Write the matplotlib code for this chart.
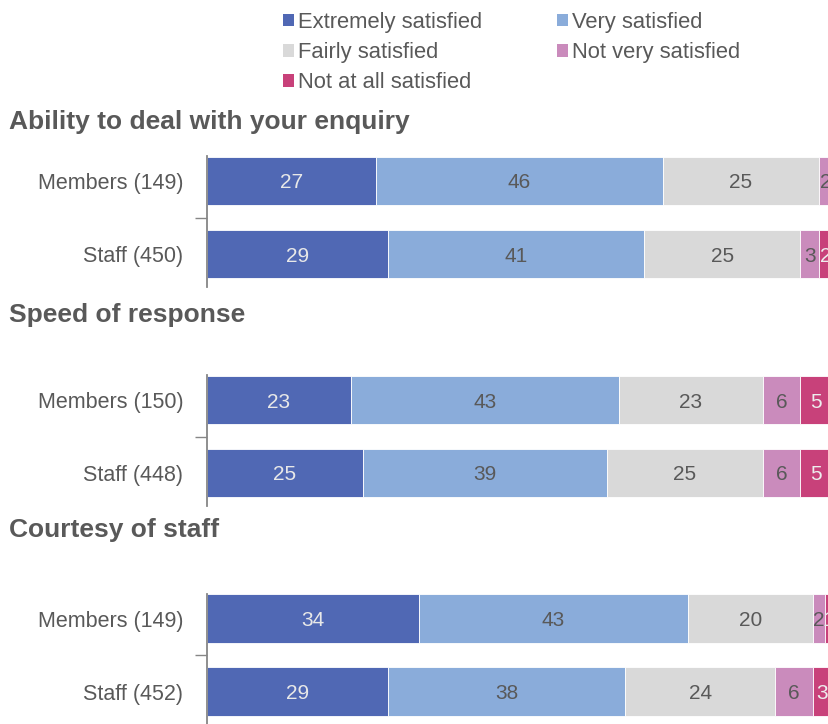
import matplotlib
matplotlib.use("Agg")
import matplotlib.pyplot as plt
from matplotlib.patches import Patch

plt.rcParams['font.family'] = ['Liberation Sans', 'DejaVu Sans']

categories = ["Extremely satisfied", "Very satisfied", "Fairly satisfied",
              "Not very satisfied", "Not at all satisfied"]
colors = ["#5068B4", "#8AACDA", "#D9D9D9", "#CA8BBC", "#C8417A"]
label_colors = ["#E8E8E8", "#595959", "#595959", "#595959", "#EDEDED"]

section_titles = ["Ability to deal with your enquiry", "Speed of response", "Courtesy of staff"]
row_labels = [
    ["Members (149)", "Staff (450)"],
    ["Members (150)", "Staff (448)"],
    ["Members (149)", "Staff (452)"],
]
# values per section: rows x categories
ability = [[27, 46, 25, 2, 1], [29, 41, 25, 3, 2]]
speed = [[23, 43, 23, 6, 5], [25, 39, 25, 6, 5]]
courtesy = [[34, 43, 20, 2, 1], [29, 38, 24, 6, 3]]
sections = [ability, speed, courtesy]

W, H = 829, 724
fig = plt.figure(figsize=(W / 100, H / 100), dpi=100)

text_col = "#595959"
spine_col = "#868686"
row_px = 73.0
centers = [181, 400, 618.5]
title_y = [122, 315, 530]
left_px = 207
xmax = 99.6

for s, (data, labels) in enumerate(zip(sections, row_labels)):
    top = centers[s] - 0.5 * row_px
    bot = centers[s] + 1.5 * row_px
    ax = fig.add_axes([left_px / W, 1 - bot / H, (W - left_px) / W, (bot - top) / H])
    for r, row in enumerate(data):
        left = 0
        for k, v in enumerate(row):
            ax.barh(r, v, left=left, height=0.67, color=colors[k],
                    edgecolor="white", linewidth=0.6)
            ax.text(left + v / 2, r, str(v), ha="center", va="center_baseline",
                    fontsize=15, color=label_colors[k], clip_on=True)
            left += v
    ax.set_xlim(0, xmax)
    ax.set_ylim(1.5, -0.5)
    ax.set_yticks([0, 1])
    ax.set_yticklabels(labels, fontsize=15.5, color=text_col)
    ax.tick_params(axis="y", length=0, pad=17)
    ax.set_yticks([0.5], minor=True)
    ax.tick_params(axis="y", which="minor", length=9, width=1, color=spine_col, direction="out")
    ax.set_xticks([])
    for sp in ["top", "right", "bottom"]:
        ax.spines[sp].set_visible(False)
    ax.spines["left"].set_color(spine_col)
    ax.spines["left"].set_linewidth(1.3)
    ax.spines["left"].set_bounds(-0.34, 1.45 if s < 2 else 1.7)
    fig.text(9 / W, 1 - title_y[s] / H, section_titles[s], fontsize=19, fontweight="bold",
             color=text_col, ha="left", va="center")

order = [0, 2, 4, 1, 3]
handles = [Patch(facecolor=colors[i], edgecolor="none") for i in order]
labs = [categories[i] for i in order]
fig.legend(handles, labs, ncol=2, loc="upper left", bbox_to_anchor=(272 / W, 1 - 1 / H),
           frameon=False, fontsize=15.8, handlelength=0.5, handleheight=0.5,
           handletextpad=0.2, columnspacing=3.4, labelspacing=0.42, borderpad=0,
           labelcolor=text_col)

fig.savefig("out.png", dpi=100)
